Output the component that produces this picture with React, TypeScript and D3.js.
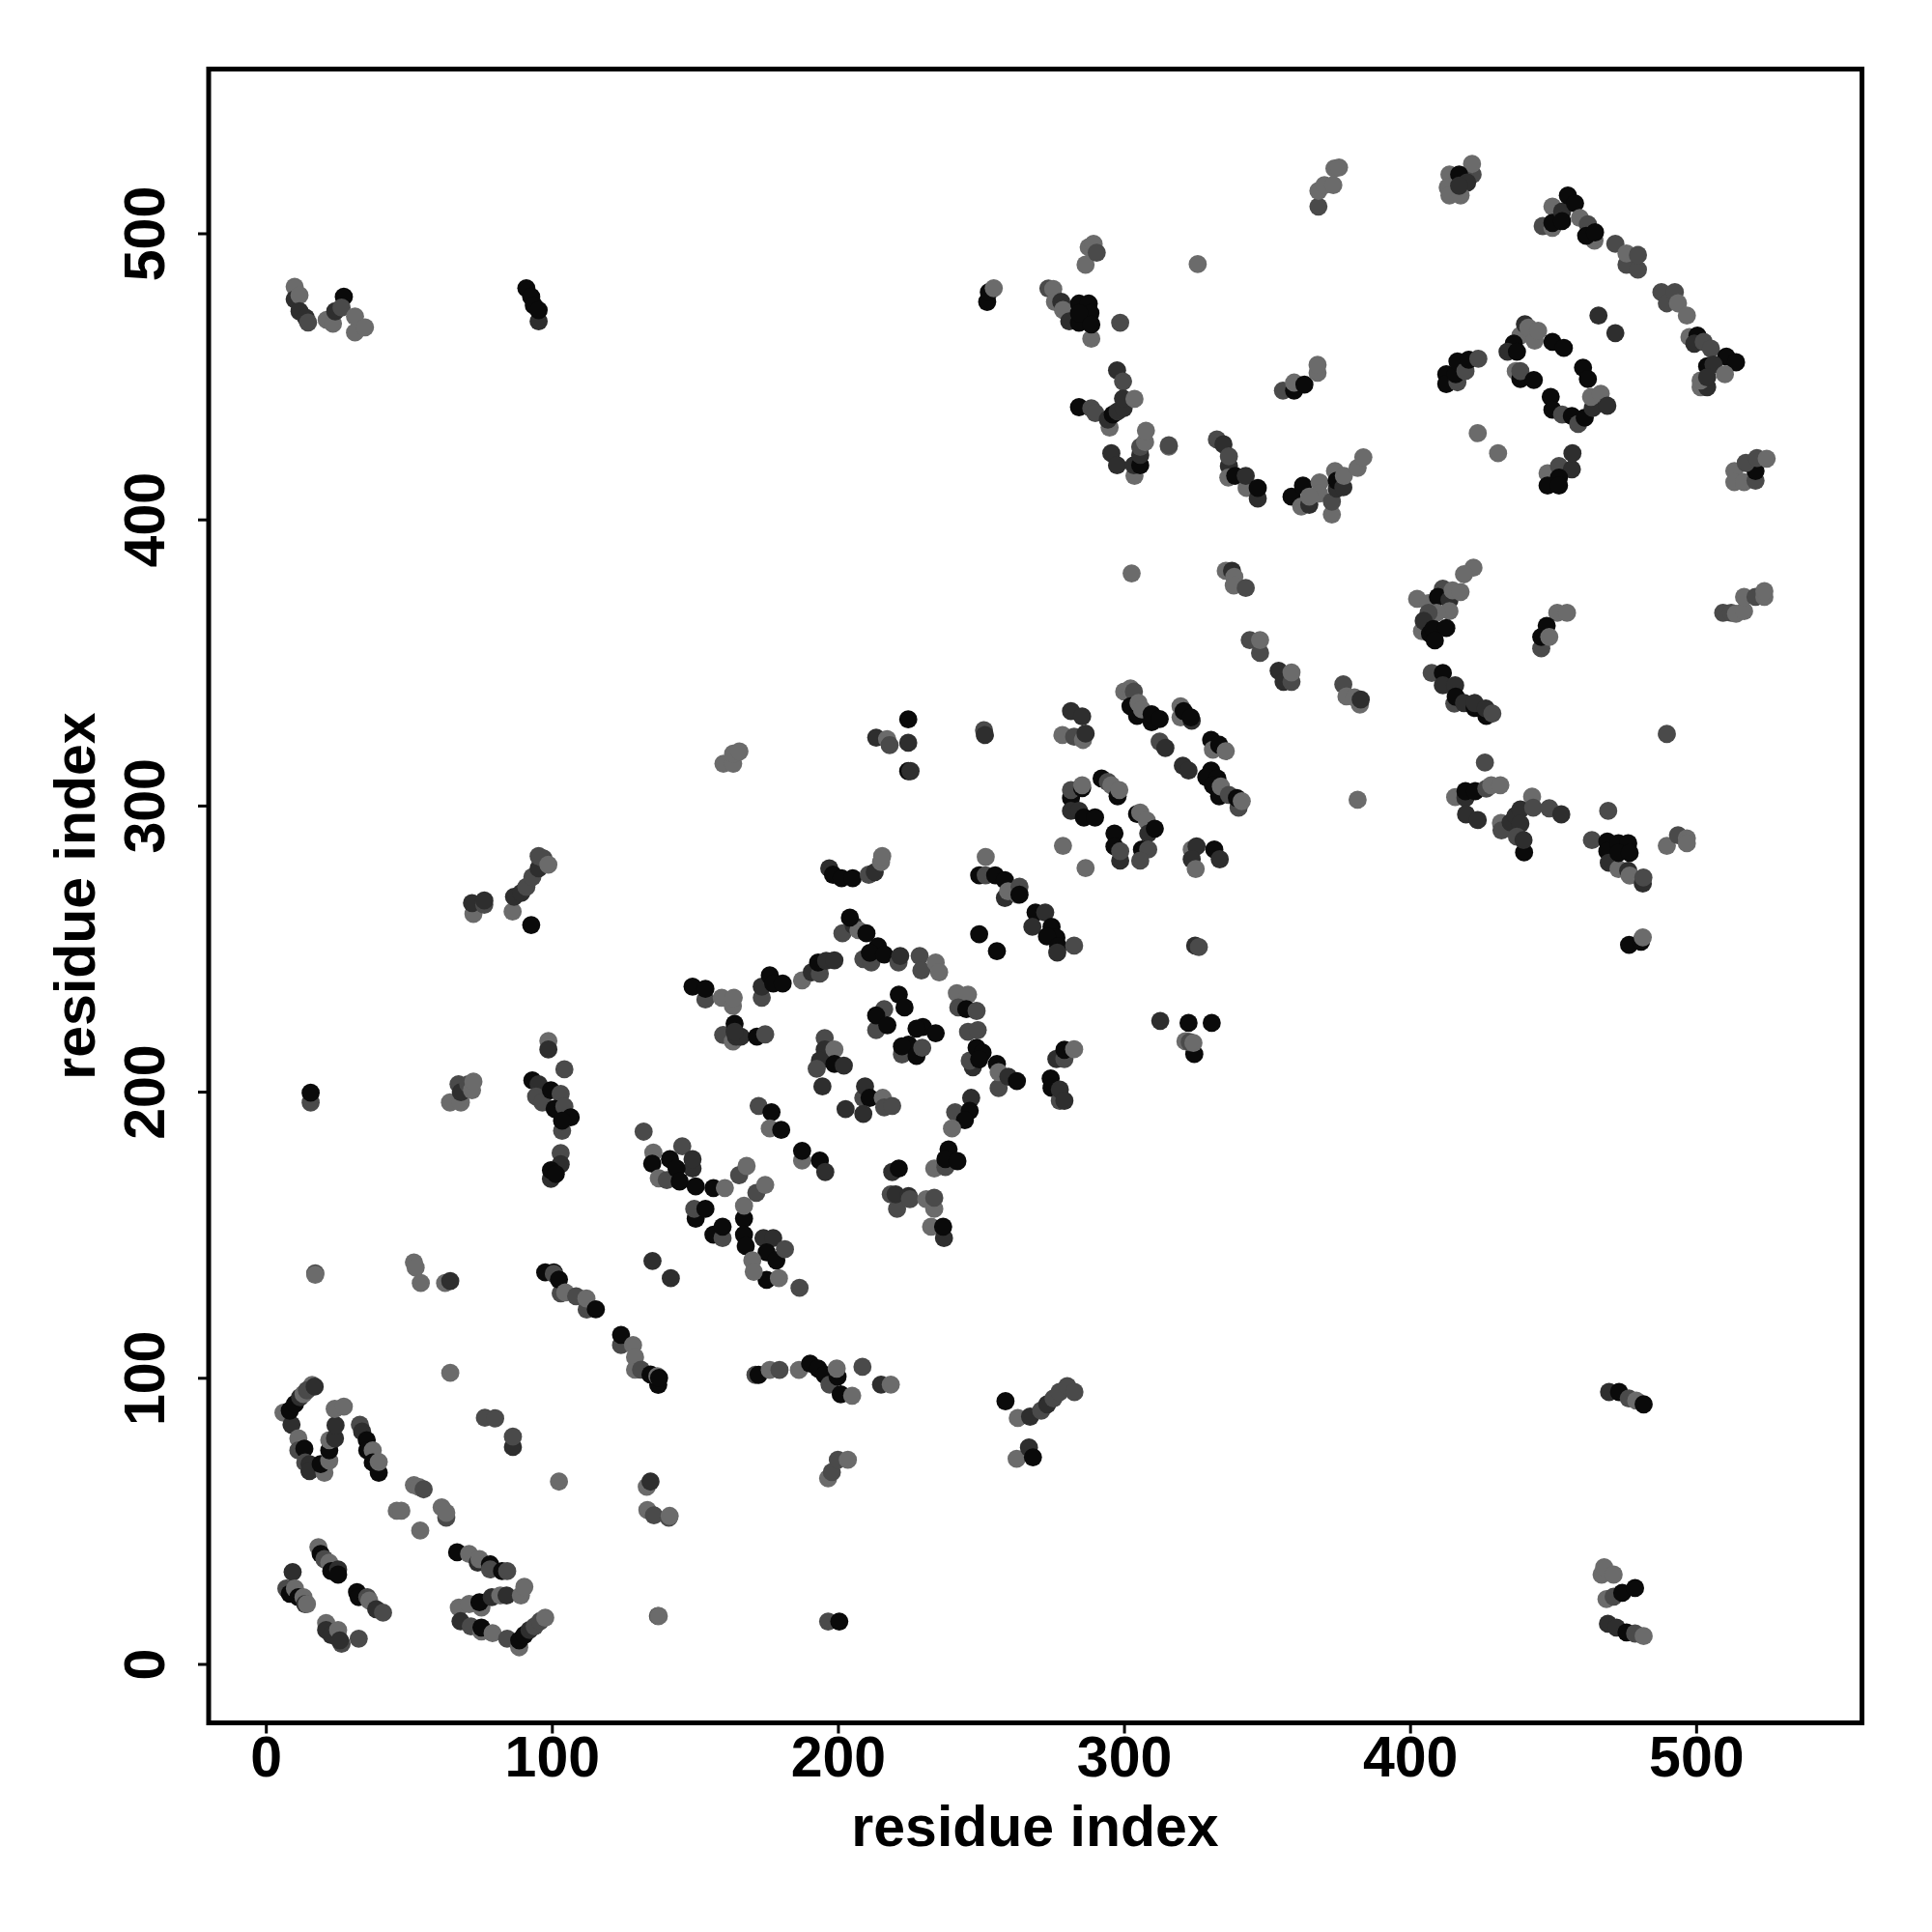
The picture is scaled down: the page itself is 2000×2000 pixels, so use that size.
import React from "react";
import * as d3 from "d3";

type P = [number, number, number];

const tickValues = [0, 100, 200, 300, 400, 500];
const axisTitle = "residue index";
const shadeLevels = [0, 1, 2, 3];
const shadeColours = ["#0a0a0a", "#2e2e2e", "#4a4a4a", "#6b6b6b"];

const lowerLeft: P[] = [
[17.1,136.7,2],[17.1,136.2,3],[51.6,140.5,3],[52.2,138.7,3],[54,133.3,3],[62.5,133.3,3],[64.3,134,1],
[97.5,137,0],[100.5,137,0],[100.5,136.5,2],[102.9,129.7,2],[102.3,134.5,0],[104.5,130,3],[108.3,128.7,2],[112,124,2],[111.9,127.9,3],[115.2,124.1,0],
[124,111.6,2],[124,115.2,0],[128.2,111.6,3],[128.9,103,3],[128.9,107.4,3],[131,103,2],[134.3,101.3,0],[137,97.7,0],[136.7,100.7,3],[137.3,100.1,0],
[135,141,1],[141.4,135,1],
[6,88,3],[8.8,83.8,1],[8.2,88.7,0],[10,91,0],[11.8,93.4,1],[13,94.5,3],[16,97.7,3],[14.2,95.8,2],[16.9,97.1,1],
[11.2,79,3],[11.2,74.8,2],[13.3,75.4,0],[13.6,70.6,2],[15.1,70,1],[15.1,67.6,1],[20.3,67,3],[19,70,0],[22,71.2,3],[22,74.8,0],[22,78.4,3],[24,79,1],[24.2,83.6,1],[23.9,89.3,3],[27.1,90.1,3],
[32.7,83.8,2],[33.5,81.4,1],[35.1,78.4,0],[35.3,74.8,0],[37.2,74.8,3],[37.2,70.6,0],[39.3,67,0],[39.3,70.8,3],
[51.6,62.7,3],[53.4,62,3],[55,61.2,2],[45.6,53.7,3],[47.2,53.7,3],[61.3,54.9,3],[62.9,51.3,2],[62.9,53,3],[53.8,46.8,3],
[64.3,101.9,3],[76.4,86.2,2],[80,86,2],[86.2,76,1],[86.2,79.6,2],[102.3,63.9,3],[133,62.1,3],[134.3,63.9,1],
[133.2,54,3],[135.5,52.1,2],[140.7,51.3,2],[141,51.9,3],[136.9,16.9,2],[137.2,16.9,3],
[9.2,32.3,1],[7,26.5,2],[8.2,24.7,0],[10,26.5,3],[11.2,23.5,0],[13,23.5,3],[13.6,21.1,1],[14.2,21.1,3],
[18.2,41,3],[19,38.6,0],[20.3,36.8,2],[22,35.6,3],[22.7,32.6,0],[25.1,33.2,1],[25.1,31.4,0],
[31.7,25.3,0],[32.3,23.5,0],[35.3,23.5,2],[36,22.3,3],[38.4,19.3,1],[40.8,18.1,2],
[20.9,14.5,3],[20.9,12,1],[22.7,10.3,1],[25.1,12,3],[26.3,7.2,2],[25.7,8.4,1],[32.3,9,2],
[66.7,39.2,0],[70.9,38.6,3],[73.9,35.6,1],[74.5,36.8,3],[78.2,35,0],[78.2,33.2,2],[82.4,32.6,0],[84.2,32.6,2],
[67.3,19.9,3],[70.9,21.1,3],[75.2,19.9,3],[74.5,21.7,0],[78.8,23.5,1],[81.8,24.1,3],[84,24.1,1],[89,24.1,3],[90.2,27.1,3],
[67.9,15.1,1],[71.5,13.3,2],[75.2,11.5,3],[75.2,12.9,0],[79.1,10.9,3],[84.2,9,2],[88.4,6,3],[88.4,8.4,0],[90.2,10.3,0],[92,12,1],[93.8,13.3,2],[95.7,15.1,2],[97.5,16.3,3],
];

const lowerMiddle: P[] = [
[171,101.2,2],[172.1,101.2,0],[176,102.9,3],[179.4,102.9,2],[186.2,102.9,3],[190.1,105.1,0],[192.9,103.4,0],[195.2,101.2,0],[196.9,97.8,2],[199.7,100.6,0],[199.4,103.4,3],[200.8,94.4,0],[204.8,93.9,3],[208.4,104,2],[214.9,97.8,1],[218.3,97.8,3],
[258.4,92,0],[262.7,86.1,3],[267,86.6,1],[270.9,88.7,2],[273,90.9,1],[275.2,93,2],[277.3,95.2,2],[280,97.3,2],[282.5,95.2,2],
[262.3,71.9,3],[266.6,75.8,1],[268,72.4,0],
[196.4,65,3],[197.7,67.2,2],[199.8,71.5,2],[203.3,71.5,3],[196.4,15,2],[200.3,15,0],
[466.8,31.4,3],[467.7,34,3],[471,31.4,3],[468.5,22.8,3],[471,23.7,2],[474,25,0],[478.5,26.7,0],[469,14.2,1],[472,12.9,1],[475.5,11.2,0],[478.5,10.8,2],[481.5,9.9,3],
[469.4,95.2,1],[472.9,95.2,0],[476.3,93,2],[478.9,92.2,3],[481.5,90.9,0],
];

const ringCluster: P[] = [
[149,236.9,0],[153.5,232.4,2],[153.5,236.1,0],[159.2,233,3],[163.1,230.1,3],[163.4,233,3],
[159.7,220,2],[163.1,217.7,3],[163.7,223.9,0],[164.2,219.4,1],[165.9,219.4,1],[163.7,221.1,1],[171.5,219.4,0],[174.4,220.2,2],
[173.2,233,2],[173.2,236.9,1],[176,240.8,0],[177.2,238,0],[180.5,238,0],
[187.3,239.1,3],[190.7,241.9,1],[193.5,241.4,2],[192.9,245.3,0],[195.7,245.9,1],[198.6,246.1,1],
[201.4,255.5,2],[205.3,258.3,1],[207,256.6,3],[209.8,255.5,0],[204,261,0],[213.8,251,0],[208.7,246.5,2],[211.5,245.3,2],[211,248.7,0],[216,248.1,0],[221,245.3,2],[221.6,247.6,1],[228.4,247.6,2],[229,242.5,2],[234,245.3,3],[235.2,241.9,3],
[241.4,234.6,3],[245.3,234.1,3],[241.9,229.6,2],[244.7,229,0],[248.3,228.4,2],[245.3,221.1,2],[248.7,221.7,2],
[247,208.7,1],[245.9,211,2],[248.3,215.5,0],[250.4,213.8,0],[249.2,211.5,0],[255.4,209.9,0],[256,201.4,2],[256,207,3],[259.4,205.4,1],[262.4,203.9,0],
[246.4,198,1],[240.8,193,2],[245.9,193.5,0],[244.2,190.2,0],[239.7,187.3,3],[238.5,180,0],[233.5,173.3,3],[237.4,173.8,2],[237.4,176.6,0],[241.6,175.9,0],
[221.1,234.1,0],[216,229,2],[223.1,229.6,0],[213.2,221.7,2],[213.2,226.8,0],[217.1,223.4,0],[229.5,222.8,0],[227.3,222.2,0],[234,220.6,0],[222.2,213.2,2],[224.5,216.6,0],[222.2,216,0],[227.3,212.7,0],[229.3,215.5,2],
[195.2,218.9,2],[195.2,214.9,1],[198.6,214.9,3],[193.5,211,1],[192.4,208.2,2],[198.6,209.9,0],[201.9,209.3,1],[194.4,202,1],
[208.7,198,2],[209.3,202,1],[210.9,198,0],[215.5,198,3],[216,194.7,2],[218.8,195.2,2],[202.5,194.1,1],[208.7,192.4,1],
[172.1,195.2,2],[176.6,193,0],[176,187.3,3],[180,186.8,0],[187.3,176.1,3],[187.3,179.5,0],[193.5,176.1,0],[195.4,172.1,1],
[218.8,172.1,1],[221.1,173.3,0],[218.3,164.3,2],[220.5,159.2,2],[220,164.3,1],[224.5,163.7,1],[225,162.6,2],[230.7,162.6,3],[233.5,159.2,3],[233.5,163.1,2],[232.4,153,3],[236.9,149,1],[236.6,153,0],
[131.9,186.2,2],[135.3,178.9,3],[134.9,175,0],[141.1,176.6,0],[145.4,181.1,2],[149,173.3,1],[149,176.6,1],[137.2,169.9,3],[140,169.3,2],[143.4,173.3,0],[144.5,168.8,0],[150.1,167.1,0],[156.3,166.5,0],[160.3,166.5,3],[165.3,171,2],[167.9,174.2,3],[171.3,164.8,2],[174.4,167.6,3],
[150.1,155.8,0],[149.6,159.2,2],[153.5,159.2,0],[156.3,150.2,0],[159.5,149,2],[159.5,153,0],[167,155.8,0],[167,160.3,3],[167,150.2,0],[167.6,146.2,0],[173.8,149,1],[177.2,149,1],[174.9,144,0],[178.3,141.2,0],[169.9,141.2,3],[181.3,145.1,2],[174.9,134.4,0],[170.4,137.2,3],[179.2,135,3],[186.4,131.6,2],
[249.2,255.2,0],[255.4,249.3,0],
];

const upperDiagonal: P[] = [
[250.9,326.5,2],[251.2,324.8,1],
[281.3,333.2,1],[285.2,331.3,1],[278.3,324.8,3],[282.4,324.2,2],[285.5,323.1,3],[286.4,325.3,1],
[299.9,340,3],[302.1,341.1,3],[303.3,340,2],[302.1,334.9,0],[304.4,331.5,0],[304.9,336,3],[306.1,333.8,3],[309.5,329.3,0],[309.5,332.1,0],[312.3,330.4,0],
[319.6,334.9,3],[319.6,331,3],[320.7,333.2,0],[323.5,329.8,1],[323.2,331,0],[312.3,322.5,2],[314.3,320.3,1],
[330.3,323.1,0],[330.9,319.7,3],[333.1,321.4,0],[335.4,319.2,3],[320.4,314.1,1],[322.4,312.4,1],
[330.3,312.4,0],[328.6,310.1,0],[332.5,309.6,0],[330.9,307.3,0],[333.1,303.4,0],[333.7,306.8,3],[336.5,303.9,2],[339.9,299.4,2],[339.3,302.8,0],[341,301.7,3],
[281.3,302.8,0],[281.3,305.6,2],[285.2,306.3,0],[285.2,307.3,3],[292,309.6,0],[294.2,308.4,2],[295.4,307.3,3],[297.6,303.4,0],[298.2,305.6,3],
[281.3,298.3,1],[284.1,298.3,1],[285.8,296,0],[289.7,296,0],
[304.4,297.2,0],[305.5,297.7,3],[307.8,294.9,3],[308.3,290.4,1],[310.6,292.1,0],[306.1,284.8,0],[308.3,284.8,2],[296.5,290.4,0],[296.5,285.9,0],[298.5,280.9,1],[298.5,284.2,2],[305.5,280.9,2],
[278.5,286.1,3],[286.4,278.3,3],
[323.5,284.8,3],[325.2,285.9,1],[323.5,281.4,1],[324.9,278,3],[331.4,284.8,0],[333.3,281.4,1],
[251.5,282.2,3],[249.2,275.8,0],[251.5,275.8,2],[254.8,275.8,0],[258.2,274.1,0],[258.2,267.9,1],[259.3,270.2,3],[262.7,269,3],[263.3,271.8,2],[263.3,269,0],
[268.9,262.8,0],[272.3,262.8,1],[267.8,257.8,1],[274.5,257.8,0],[276.2,254,0],[272.9,254.4,0],[276.8,251,0],[276.5,248.8,1],[282.4,251.2,2],
[324.7,251.2,1],[326,250.7,2],[312.5,224.9,1],[322.4,224.2,0],[330.5,224.2,0],[321.3,217.8,3],[324.4,213.3,0],[322.8,217.5,2],[324.1,217.2,3],
[381.5,302.2,3],[343.8,358,2],[347.4,353.5,2],[347.4,358,3],[353.9,347.3,1],[355.6,343.4,1],[358.4,343.4,2],[358.4,346.7,3],
[376.5,342.5,2],[377.6,338.3,3],[382.3,335.5,3],[380.4,338,3],[382.6,337.2,1],
[276.2,211.6,1],[279,211.6,2],[279,214.8,0],[282.4,215,3],[274.2,204.8,0],[274.5,201.5,0],[277.4,197,2],[277.4,200.9,1],[279,197,1],
];

const upperRight: P[] = [
[252,476.2,0],[252.6,479.6,0],[254.3,481,3],
[273.4,480.9,2],[275.1,480.7,3],[275.7,476.2,3],[277.9,476.2,1],[278.5,473.4,3],[280.7,469.4,1],[284.1,475.6,0],[287.5,475.6,0],[284.1,468.9,0],[288.1,472.3,0],[284.1,472.3,0],[288.4,463.3,3],[288.4,468.3,0],[298.5,468.9,2],
[286.4,489.2,3],[287.5,495.3,3],[289.2,496.5,3],[290.3,493.4,2],[325.6,489.4,3],
[297.4,452.3,1],[299.5,448.4,2],[284.1,439.4,0],[288.4,439,2],[289.8,437.3,2],[294.8,432.3,3],[294.2,435.1,1],[295.9,436.8,0],[297.6,437.9,1],[299.7,439,1],[299.5,442.4,1],[303.5,442.3,3],
[295.4,423.3,1],[297.4,419.1,1],[303.5,415.4,3],[303.3,419.1,1],[305.5,419.1,0],[305.5,422.7,1],[305.5,425.5,2],[307.2,427.2,3],[307.5,431.2,3],[315.5,425.6,3],[315.5,426.1,2],
[332.3,428.1,2],[334.6,426.4,1],[336.5,418.8,1],[336.5,422.2,2],[336.3,414.8,3],[338.7,415.4,0],[342.7,411.2,3],[342.4,415.4,1],[346.6,407.5,1],[346.6,411.2,0],
[358.4,408.1,0],[362.4,412,0],[361.8,404.7,3],[364.6,405.3,1],[368.2,413.1,3],[368,409.2,3],[372.5,401.9,3],[372.5,406.4,2],[364.6,408.1,3],[374.2,410.9,1],[373.6,417.1,3],[374.2,413.7,0],[376.5,411.4,1],[376.7,415.4,3],[381.5,418.2,3],[383.5,421.9,3],
[355.4,445.2,2],[359.3,445.2,0],[359.3,448,3],[362.9,447.3,0],[367.5,451.4,3],[367.5,454.2,3],
[302.5,381.3,3],[335.4,382.2,3],[337.6,382.2,1],[338.4,380.1,3],[338.2,377.1,3],[342.4,376.2,2],
[367.8,509.5,2],[367.8,515,3],[369.9,517,3],[373,517,3],[373.4,522.8,3],[375,523.2,3],
[421.7,520.7,2],[421.5,524.4,3],[413.6,520.7,3],[417,520.7,0],[419.8,517.9,1],[413,516.2,3],[413.6,513.4,3],[417.5,513.4,3],[417,516.8,1],
[449.6,509.5,3],[446.2,502.7,2],[449.6,502.1,3],[449.6,503.8,0],[453,507.8,1],[453,504.4,0],[455,513.4,0],[457.5,510.6,0],[459.2,505.5,3],[462,503.3,2],[464.3,497.6,3],[461.4,499.3,0],[464.5,500.5,0],
[471.6,496.5,2],[475.5,489.2,2],[475.5,493.1,3],[479.5,487.5,2],[479.5,492.6,2],
[487.7,479.6,2],[489.6,475.7,2],[492.4,479.6,2],[493.5,475.7,3],[496.6,471.4,3],
[497.5,463.9,3],[500.3,464.4,0],[499.2,461.6,1],[502.5,462.2,2],[505,459.9,2],[510.4,457.1,0],[513.8,455.1,0],[503.7,453.7,0],[505.9,454.3,1],[501.4,446.4,3],[503.7,446.4,1],[501.4,448.7,3],[503.7,449.8,1],[509.9,450.9,3],
[465.7,471.4,1],[471.6,465.3,1],
[438.4,464.4,3],[436.1,461.6,0],[433.9,458.8,1],[437.2,458.8,0],[440,468.4,1],[441.2,467.2,3],[443.4,462.7,3],[444.6,466.1,3],[436.8,452,3],[438.4,449.2,0],[438.4,452,2],[443.1,448.9,0],
[449.6,462.2,0],[453.6,460.1,0],[460.3,453.2,0],[462,449.2,0],
[449,443,0],[449.6,438.5,0],[453,436.8,2],[456.4,436.3,0],[458.6,433.5,2],[460.9,435.7,0],[463.7,439.1,1],[463.1,443,3],[466.5,444.1,3],[468.8,439.9,1],
[412.5,450.9,0],[412.5,447.5,0],[416.4,448.1,2],[415.8,450.9,0],[416.4,455.4,0],[419.2,452,2],[420.3,456,0],[423.7,456.3,2],
[423.5,430.3,3],[430.6,423.3,3],
[447.9,416.3,3],[451.9,418.8,2],[456.4,417.7,1],[456.6,423.3,1],[451.9,414.8,0],[447.9,412,0],[451.9,412,0],
[513.2,417.1,3],[513.2,413.2,3],[516.6,413.2,3],[520.6,413.7,2],[520.6,417.1,0],[517.2,419.9,2],[521.1,421.6,2],[524.5,421.4,3],
];

const middleRight: P[] = [
[422,383.3,3],[418.7,381,3],[402.3,372.4,3],[406.3,370.9,3],[411.3,376,2],[409.6,373.1,0],[413.6,372,1],[414.7,375.4,3],[417.5,374.8,3],[413.6,368.1,3],[409.1,367.5,3],[406.3,367.5,2],
[404,361.1,3],[404.6,364.7,1],[406.8,360.2,0],[408,361.9,0],[412.5,362.2,0],[408.5,357.9,0],
[451.3,367.5,3],[454.7,367.5,3],[447.6,363,0],[445.7,355.1,2],[445.7,359.1,0],[448.5,359.1,3],
[509.3,367.5,2],[512.1,367.5,2],[513.8,367.2,3],[516.6,368.1,3],[516.6,373.1,3],[520.6,373.1,2],[523.7,373.1,3],[523.7,375.1,3],
[407.4,346.5,2],[411.3,346.5,0],[411.3,342.2,1],[415.6,342.2,1],[415.3,335.8,2],[415.8,338.2,0],[418.7,336,1],[422.4,334.3,0],[422.4,336,1],[426.5,331.5,0],[426.3,334.1,1],[428.6,332.3,2],
[489.6,325.2,2],[426,315.2,2],[415.6,303.1,3],[419.2,302.8,1],[419.2,305.2,0],[422.6,305.2,0],[426.5,306.1,2],[428.2,307.3,3],[431.4,307.3,3],[419.4,297.1,1],[423.5,295.1,1],
[442.5,303.3,3],[431.6,294.1,3],[431.8,291.5,2],[435,294.3,1],[436.7,296.6,1],[438.4,298.8,1],[438.4,293.8,1],[442.9,299.4,2],[448.5,299.2,2],[452.7,297.1,1],[439.7,283.8,0],[437.2,289.3,2],[439.5,288.1,1],
[469.1,298.3,2],[463.4,288.1,2],[468.8,287.6,0],[468.8,284.2,0],[469.3,280.2,1],[472.7,278,3],[472.7,287,0],[476.1,287,0],[472.7,283.6,0],[476.6,283.6,0],[476.1,277.4,1],[476.6,275.7,3],[481.2,272.9,1],[481.4,275,2],
[489.6,286.1,3],[493.5,289.8,2],[496.6,288.7,3],[496.6,287,3],
[476.4,251.5,0],[480.6,252.6,0],[481.2,254.1,3],
];

const upperLeft: P[] = [
[9.9,481.5,3],[9.9,477.1,1],[11.6,478.5,3],[11.6,472.9,1],[13.8,470.7,1],[14.6,469,2],[21.1,469.9,3],[23.3,468.6,3],[24.1,472.9,1],[27.1,478,0],[26.3,474.2,2],[31,471.1,3],[31,465.5,3],[34.5,467.3,3],
[90.9,481,0],[92.6,478,0],[95.2,469.4,1],[93.5,475,0],[95.2,473.3,0],
[15.5,196.4,2],[15.5,199.8,0],
[64.2,196.4,3],[67.2,202.8,2],[68,196.4,3],[68,200,1],[70.6,202.8,2],[71.9,200.7,3],[72.4,203.7,3],
[72.4,262.3,3],[71.9,266.1,1],[76.2,265.5,2],[76.2,267,1],
[86.1,263.1,3],[86.6,268.3,1],[89.1,269.6,1],[90.9,271.7,2],[93,275.2,2],[95.2,278.2,1],[96.9,281.7,2],[95.2,282.5,2],[98.6,279.5,3],[92.6,258.4,0],
[98.6,217.9,3],[98.6,214.9,1],[104.2,208,2],[93,204.1,0],[95.2,202.8,1],[94.3,198.5,2],[96.5,196.4,2],[99.5,200.7,0],[102.9,199.4,2],[100.8,194.2,0],[104.2,195,2],[106.4,191.2,0],[103.4,186.5,2],[103.4,190,0],[102.9,178.7,2],[102.9,174.8,1],[99.5,169.7,1],[99.5,172.7,0],[101.2,171.4,0],
[159.8,314.8,3],[163.2,314.8,3],[163.2,318.3,3],[165.4,319.1,3],
[213.2,323.9,1],[217,323.4,3],[217.9,321.3,2],[224.4,330.3,0],[224.4,322.1,1],[224.4,312.2,0],[225.2,312.2,1],
[196.8,278.2,1],[198.1,276,0],[201.1,274.8,0],[205,274.8,0],[210.6,276,2],[212.7,276.9,1],[214.9,280.4,3],[215.3,282.5,3],
];

const allPoints: P[] = [...lowerLeft, ...lowerMiddle, ...ringCluster, ...upperDiagonal, ...upperRight, ...middleRight, ...upperLeft];

const x = d3.scaleLinear().domain([0, 500]).range([275.7, 1756.3]);
const y = d3.scaleLinear().domain([0, 500]).range([1723, 242]);
const shade = d3.scaleOrdinal<number, string>().domain(shadeLevels).range(shadeColours);

const box = { left: 216, right: 1927.5, top: 71.5, bottom: 1783.5 };
const font = "'Liberation Sans', Arial, sans-serif";
const fontSize = 59;

export default function App() {
  return (
    <svg
      width={2000}
      height={2000}
      style={{ position: "absolute", left: 0, top: 0, background: "#fff" }}
      fontFamily={font}
      fontWeight="bold"
      fontSize={fontSize}
    >
      {allPoints.map((p, i) => (
        <circle key={i} cx={x(p[0])} cy={y(p[1])} r={9.4} fill={shade(p[2])} />
      ))}
      <rect
        x={box.left}
        y={box.top}
        width={box.right - box.left}
        height={box.bottom - box.top}
        fill="none"
        stroke="#000"
        strokeWidth={5}
      />
      {tickValues.map((t) => (
        <g key={t}>
          <line x1={x(t)} x2={x(t)} y1={box.bottom} y2={box.bottom + 11} stroke="#000" strokeWidth={3} />
          <text x={x(t)} y={1839} textAnchor="middle">{t}</text>
          <line y1={y(t)} y2={y(t)} x1={box.left} x2={box.left - 11} stroke="#000" strokeWidth={3} />
          <text transform={`translate(170,${y(t)}) rotate(-90)`} textAnchor="middle">{t}</text>
        </g>
      ))}
      <text x={1071.5} y={1911} textAnchor="middle">{axisTitle}</text>
      <text transform={`translate(98,927.5) rotate(-90)`} textAnchor="middle">{axisTitle}</text>
    </svg>
  );
}
